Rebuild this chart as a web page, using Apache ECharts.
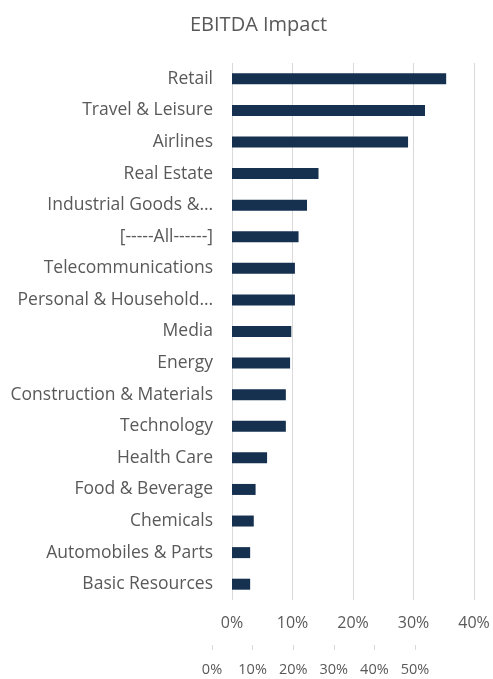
<!DOCTYPE html>
<html>
<head>
<meta charset="utf-8">
<script src="https://cdn.jsdelivr.net/npm/echarts@6/dist/echarts.min.js"></script>
<style>
  html, body { margin: 0; padding: 0; background: #ffffff; }
  #chart { width: 493px; height: 679px; }
</style>
</head>
<body>
<div id="chart"></div>
<script>
const categories = [
  'Retail', 'Travel & Leisure', 'Airlines', 'Real Estate', 'Industrial Goods &…',
  '[-----All------]', 'Telecommunications', 'Personal & Household…', 'Media', 'Energy',
  'Construction & Materials', 'Technology', 'Health Care', 'Food & Beverage',
  'Chemicals', 'Automobiles & Parts', 'Basic Resources'
];
const ebitdaImpact = [35.4, 31.9, 29.1, 14.3, 12.4, 11.0, 10.4, 10.4, 9.8, 9.6, 8.9, 8.9, 5.8, 3.9, 3.6, 3.0, 3.0];
const mainTicks = [0, 10, 20, 30, 40];
const secondTicks = [0, 10, 20, 30, 40, 50];

const FONT = '"Open Sans", Lato, sans-serif';
const GREY = '#595959';
const chart = echarts.init(document.getElementById('chart'), null, { renderer: 'canvas' });
chart.setOption({
  animation: false,
  backgroundColor: '#ffffff',
  title: {
    text: 'EBITDA Impact',
    left: 185,
    top: 10,
    textStyle: { color: GREY, fontFamily: FONT, fontSize: 20, fontWeight: 'normal' }
  },
  grid: [
    { left: 232, top: 63, width: 242, height: 537, containLabel: false },
    { left: 212, top: 600, width: 203, height: 45, containLabel: false }
  ],
  xAxis: [
    {
      type: 'value', gridIndex: 0,
      min: mainTicks[0], max: mainTicks[mainTicks.length - 1], interval: 10,
      axisLine: { show: false }, axisTick: { show: false },
      splitLine: { show: true, lineStyle: { color: '#d9d9d9', width: 1 } },
      axisLabel: { color: GREY, fontFamily: FONT, fontSize: 16, margin: 15, formatter: v => v + '%' }
    },
    {
      type: 'value', gridIndex: 1, position: 'bottom',
      min: secondTicks[0], max: secondTicks[secondTicks.length - 1], interval: 10,
      axisLine: { show: false },
      axisTick: { show: true, length: 5, inside: false, lineStyle: { color: '#d9d9d9' } },
      splitLine: { show: false },
      axisLabel: { color: GREY, fontFamily: FONT, fontSize: 14.5, margin: 17, formatter: v => v + '%' }
    }
  ],
  yAxis: [
    {
      type: 'category', gridIndex: 0, data: categories, inverse: true,
      axisLine: { show: false }, axisTick: { show: false },
      axisLabel: { color: GREY, fontFamily: FONT, fontSize: 17.5, margin: 19 }
    },
    {
      type: 'value', gridIndex: 1, show: false, min: 0, max: 1
    }
  ],
  series: [
    {
      type: 'bar', xAxisIndex: 0, yAxisIndex: 0,
      data: ebitdaImpact, barWidth: 11,
      itemStyle: { color: '#16314f' }
    }
  ]
});
</script>
</body>
</html>
